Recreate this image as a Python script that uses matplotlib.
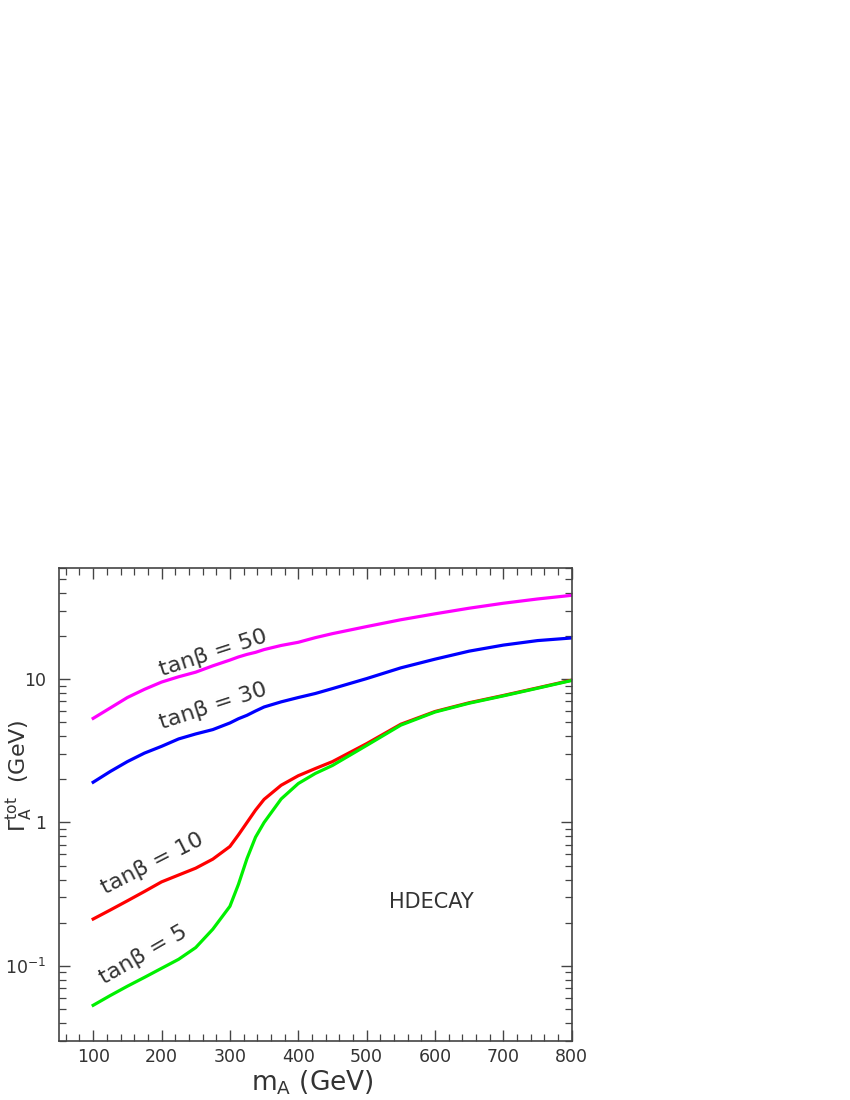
import matplotlib
matplotlib.use("Agg")
from matplotlib import pyplot as plt
from matplotlib.ticker import FixedLocator, MultipleLocator, LogLocator, NullFormatter

# m_A grid (GeV) shared by all curves
mA = [100, 125, 150, 175, 200, 225, 250, 275, 300, 312.5, 325, 337.5, 350,
      375, 400, 425, 450, 500, 550, 600, 650, 700, 750, 800]

# total width Gamma_A (GeV)
width_tb50 = [5.33, 6.3, 7.45, 8.5, 9.55, 10.4, 11.2, 12.4, 13.6, 14.3, 14.9, 15.4, 16.1,
              17.2, 18.1, 19.5, 20.8, 23.3, 26.0, 28.6, 31.3, 33.9, 36.3, 38.5]
width_tb30 = [1.91, 2.27, 2.66, 3.05, 3.4, 3.83, 4.15, 4.45, 4.95, 5.3, 5.6, 6.0, 6.4,
              6.95, 7.45, 7.95, 8.6, 10.1, 12.0, 13.8, 15.7, 17.3, 18.6, 19.4]
width_tb10 = [0.212, 0.245, 0.284, 0.33, 0.385, 0.43, 0.48, 0.555, 0.68, 0.82, 1.0, 1.22, 1.45,
              1.82, 2.12, 2.38, 2.66, 3.55, 4.85, 5.95, 6.85, 7.7, 8.7, 9.85]
width_tb5 = [0.053, 0.062, 0.072, 0.083, 0.096, 0.111, 0.134, 0.18, 0.26, 0.37, 0.56, 0.79, 1.0,
             1.46, 1.87, 2.2, 2.5, 3.45, 4.78, 5.9, 6.8, 7.65, 8.65, 9.8]

curve_labels = ["tanβ = 50", "tanβ = 30", "tanβ = 10", "tanβ = 5"]
label_x = [276, 275, 186, 173]
label_y = [15.3, 6.5, 0.514, 0.119]
label_rot = [18, 18, 27, 30]

xticks = [100, 200, 300, 400, 500, 600, 700, 800]
yticks = [0.1, 1, 10]
ytick_labels = [r"$10^{-1}$", "1", "10"]

fig = plt.figure(figsize=(8.5, 11), dpi=100)
ax = fig.add_axes([0.0694, 0.0539, 0.6032, 0.43])

ax.plot(mA, width_tb50, color="#ff00ff", lw=2.3)
ax.plot(mA, width_tb30, color="#0000ff", lw=2.3)
ax.plot(mA, width_tb10, color="#ff0000", lw=2.3)
ax.plot(mA, width_tb5, color="#00f000", lw=2.3)

ax.set_yscale("log")
ax.set_xlim(50, 800)
ax.set_ylim(0.03, 60)

ax.xaxis.set_major_locator(FixedLocator(xticks))
ax.xaxis.set_minor_locator(MultipleLocator(20))
ax.set_xticklabels([str(t) for t in xticks])
ax.yaxis.set_major_locator(FixedLocator(yticks))
ax.set_yticklabels(ytick_labels)
ax.yaxis.set_minor_locator(LogLocator(base=10, subs=range(2, 10)))
ax.yaxis.set_minor_formatter(NullFormatter())

ax.tick_params(which="both", direction="in", top=True, right=True, color="#444444")
ax.tick_params(which="major", length=8, width=1.0, labelsize=12.5, labelcolor="#333333")
ax.tick_params(which="minor", length=5, width=0.9)
ax.tick_params(axis="x", which="major", pad=5)
ax.tick_params(axis="y", which="major", pad=9)
for s in ax.spines.values():
    s.set_color("#444444")
    s.set_linewidth(1.2)

for txt, lx, ly, rot in zip(curve_labels, label_x, label_y, label_rot):
    ax.text(lx, ly, txt, rotation=rot, ha="center", va="center", fontsize=16, color="#333333")

ax.text(595, 0.279, "HDECAY", ha="center", va="center", fontsize=15, color="#333333")

fig.text(0.367, 0.0155, r"m$_{\mathrm{A}}$ (GeV)", ha="center", va="center", fontsize=19, color="#333333")
fig.text(0.0235, 0.2945, r"$\Gamma_{\mathrm{A}}^{\mathrm{tot}}$  (GeV)", rotation=90,
         ha="center", va="center", fontsize=16, color="#333333")

fig.savefig("out.png", dpi=100)
